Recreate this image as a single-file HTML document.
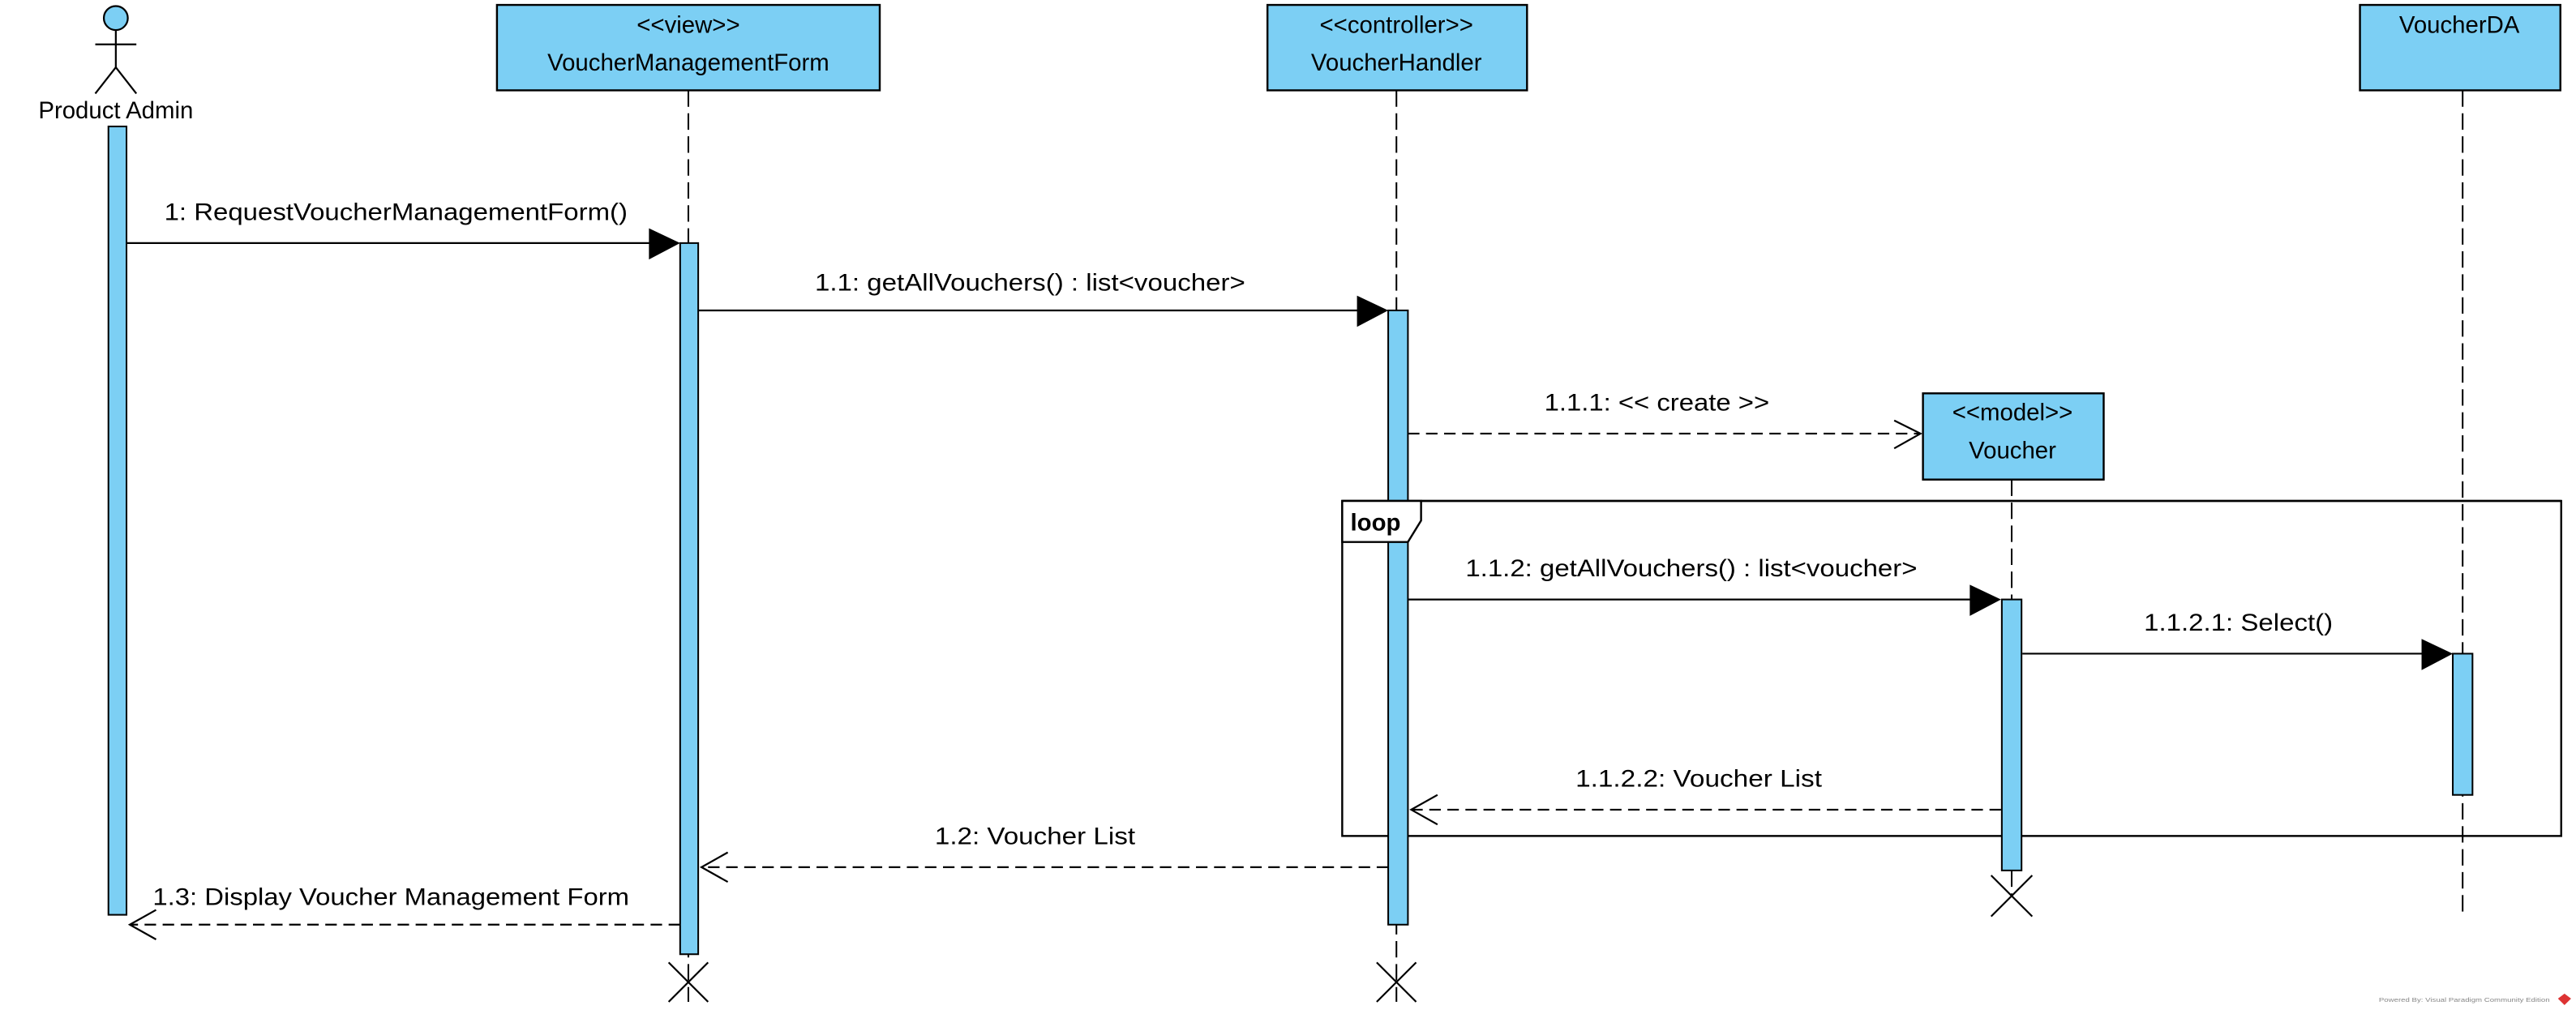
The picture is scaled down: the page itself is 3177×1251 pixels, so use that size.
<!DOCTYPE html>
<html><head><meta charset="utf-8"><style>
html,body{margin:0;padding:0;background:#fff;}
svg{display:block;}
text{font-family:"Liberation Sans",Arial,sans-serif;font-size:14.5px;fill:#000;}
</style></head><body>
<svg width="3177" height="1251" viewBox="0 0 1568 617.4" preserveAspectRatio="none" xmlns="http://www.w3.org/2000/svg">
<rect x="0" y="0" width="1568" height="618" fill="#fff"/>
<g stroke="#000" stroke-width="1" fill="none">
<line x1="419" y1="55" x2="419" y2="610" stroke-dasharray="10 4"/>
<line x1="850" y1="55" x2="850" y2="610" stroke-dasharray="10 4"/>
<line x1="1224.5" y1="292" x2="1224.5" y2="545" stroke-dasharray="10 4"/>
<line x1="1499" y1="55" x2="1499" y2="556" stroke-dasharray="10 4"/>
</g>
<rect x="817" y="305" width="742" height="204" fill="none" stroke="#000" stroke-width="1.2"/>
<!-- actor -->
<g stroke="#000" stroke-width="1.1" fill="none">
<circle cx="70.5" cy="11" r="7.3" fill="#7ccff4"/>
<line x1="70.5" y1="18" x2="70.5" y2="41"/>
<line x1="58" y1="27" x2="83" y2="27"/>
<line x1="70.5" y1="41" x2="58" y2="57"/>
<line x1="70.5" y1="41" x2="83" y2="57"/>
</g>
<text x="70.5" y="72" text-anchor="middle">Product Admin</text>
<g fill="#7ccff4" stroke="#000" stroke-width="1.2">
<rect x="302.5" y="3" width="233" height="52"/>
<rect x="771.5" y="3" width="158" height="52"/>
<rect x="1436.5" y="3" width="122" height="52"/>
<rect x="1170.5" y="239.5" width="110" height="52.5"/>
</g>
<text x="419" y="20" text-anchor="middle">&lt;&lt;view&gt;&gt;</text>
<text x="419" y="43" text-anchor="middle">VoucherManagementForm</text>
<text x="850" y="20" text-anchor="middle">&lt;&lt;controller&gt;&gt;</text>
<text x="850" y="43" text-anchor="middle">VoucherHandler</text>
<text x="1497" y="20" text-anchor="middle">VoucherDA</text>
<text x="1225" y="256" text-anchor="middle">&lt;&lt;model&gt;&gt;</text>
<text x="1225" y="279" text-anchor="middle">Voucher</text>
<g fill="#7ccff4" stroke="#000" stroke-width="1">
<rect x="66" y="77" width="11" height="480"/>
<rect x="414" y="148" width="11" height="433"/>
<rect x="845" y="189" width="12" height="374"/>
<rect x="1218.5" y="365" width="12" height="165"/>
<rect x="1493" y="398" width="12" height="86"/>
</g>
<!-- loop tab on top -->
<line x1="817" y1="305" x2="1559" y2="305" stroke="#000" stroke-width="1.2"/>
<polygon points="817,305 865,305 865,317 857,330 817,330" fill="#fff" stroke="#000" stroke-width="1.2"/>
<text x="822" y="323" font-weight="bold" style="font-size:14.5px">loop</text>
<g stroke="#000" stroke-width="1.1" fill="none">
<line x1="77" y1="148" x2="400" y2="148"/>
<line x1="425" y1="189" x2="830" y2="189"/>
<line x1="857" y1="264" x2="1168" y2="264" stroke-dasharray="7 4"/>
<polyline points="1153,256 1169,264 1153,273"/>
<line x1="857" y1="365" x2="1204" y2="365"/>
<line x1="1231" y1="398" x2="1478" y2="398"/>
<line x1="1218" y1="493" x2="859" y2="493" stroke-dasharray="7 4"/>
<polyline points="875,484 859,493 875,502"/>
<line x1="845" y1="528" x2="427" y2="528" stroke-dasharray="7 4"/>
<polyline points="443,519 427,528 443,537"/>
<line x1="414" y1="563" x2="79" y2="563" stroke-dasharray="7 4"/>
<polyline points="95,554 79,563 95,572"/>
</g>
<g fill="#000">
<polygon points="395,139 414,148 395,158"/>
<polygon points="826,180 845,189 826,199"/>
<polygon points="1199,356 1218,365 1199,375"/>
<polygon points="1474,389 1493,398 1474,408"/>
</g>
<g stroke="#000" stroke-width="1.1">
<line x1="407" y1="586" x2="431" y2="610"/><line x1="431" y1="586" x2="407" y2="610"/>
<line x1="838" y1="586" x2="862" y2="610"/><line x1="862" y1="586" x2="838" y2="610"/>
<line x1="1212" y1="533" x2="1237" y2="558"/><line x1="1237" y1="533" x2="1212" y2="558"/>
</g>
<text x="100" y="134" textLength="282" lengthAdjust="spacingAndGlyphs">1: RequestVoucherManagementForm()</text>
<text x="496" y="177" textLength="262" lengthAdjust="spacingAndGlyphs">1.1: getAllVouchers() : list&lt;voucher&gt;</text>
<text x="940" y="250" textLength="137" lengthAdjust="spacingAndGlyphs">1.1.1: &lt;&lt; create &gt;&gt;</text>
<text x="892" y="351" textLength="275" lengthAdjust="spacingAndGlyphs">1.1.2: getAllVouchers() : list&lt;voucher&gt;</text>
<text x="1305" y="384" textLength="115" lengthAdjust="spacingAndGlyphs">1.1.2.1: Select()</text>
<text x="959" y="479" textLength="150" lengthAdjust="spacingAndGlyphs">1.1.2.2: Voucher List</text>
<text x="569" y="514" textLength="122" lengthAdjust="spacingAndGlyphs">1.2: Voucher List</text>
<text x="93" y="551" textLength="290" lengthAdjust="spacingAndGlyphs">1.3: Display Voucher Management Form</text>
<text x="1448" y="610" style="font-size:3.6px;fill:#888" textLength="104" lengthAdjust="spacingAndGlyphs">Powered By: Visual Paradigm Community Edition</text>
<polygon points="1561,605 1565,608 1561,612 1557,608" fill="#d33"/>
</svg>
</body></html>
